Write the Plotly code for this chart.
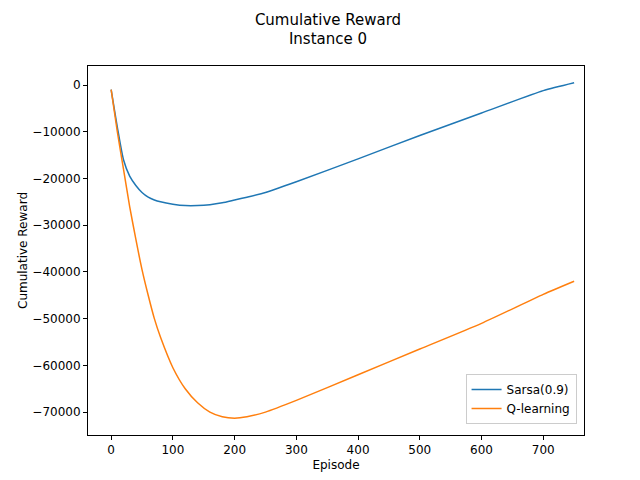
import plotly.graph_objects as go

episodes = [0, 10, 20, 30, 40, 50, 60, 70, 80, 100, 120, 140, 160, 180, 200, 220, 250, 300, 400, 500, 600, 700, 750]
sarsa = [-1000, -9000, -16000, -19500, -21500, -23000, -24000, -24600, -25000, -25500, -25800, -25800, -25600,
         -25200, -24600, -24000, -23000, -20700, -15800, -10800, -6000, -1200, 500]
qlearn = [-1000, -10000, -18000, -26000, -33000, -39500, -45000, -50000, -54000, -60500, -65000, -68000, -70000,
          -71000, -71300, -71000, -70000, -67500, -62000, -56500, -51000, -44800, -42000]

fig = go.Figure()
fig.add_trace(go.Scatter(x=episodes, y=sarsa, mode="lines", name="Sarsa(0.9)", line_shape="spline",
                         line=dict(color="#1f77b4", width=1.5, smoothing=0.6)))
fig.add_trace(go.Scatter(x=episodes, y=qlearn, mode="lines", name="Q-learning", line_shape="spline",
                         line=dict(color="#ff7f0e", width=1.5, smoothing=0.6)))

ax = dict(showgrid=False, zeroline=False, showline=True, mirror=True, linecolor="black", automargin=False,
          ticks="outside", tickcolor="black", ticklen=4, tickfont=dict(size=12, color="black"))
fig.update_layout(
    width=640, height=480, plot_bgcolor="white", paper_bgcolor="white",
    font=dict(family="DejaVu Sans", color="black"),
    margin=dict(l=80, r=64, t=58, b=53),
    title=dict(text="Cumulative Reward<br>Instance 0", x=0.5, y=0.965, xanchor="center",
               yanchor="top", font=dict(size=15)),
    xaxis=dict(ax, range=[-37.5, 766], tickvals=[0, 100, 200, 300, 400, 500, 600, 700],
               title=dict(text="Episode", font=dict(size=12), standoff=4)),
    yaxis=dict(ax, range=[-74900, 4070], tickvals=[0, -10000, -20000, -30000, -40000, -50000, -60000, -70000],
               tickformat="d", title=dict(text="Cumulative Reward", font=dict(size=12), standoff=2)),
    legend=dict(x=0.985, y=0.03, xanchor="right", yanchor="bottom", bordercolor="#cccccc",
                borderwidth=1, font=dict(size=12)),
)
fig.write_html("out.html")
